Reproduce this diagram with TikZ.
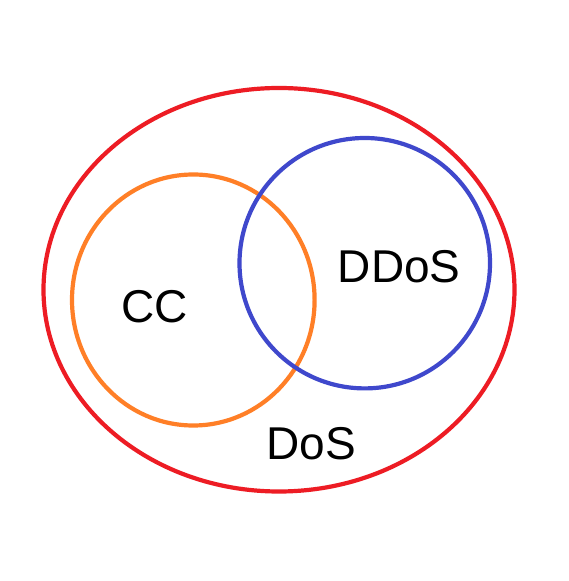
\documentclass[tikz,border=0pt]{standalone}
\usepackage{fontspec}
\setmainfont{Liberation Sans}
\definecolor{vred}{RGB}{237,28,36}
\definecolor{vorange}{RGB}{255,127,39}
\definecolor{vblue}{RGB}{63,72,204}
\begin{document}
\begin{tikzpicture}[x=1pt,y=1pt,
  setring/.style={line width=4.2pt},
  setlabel/.style={inner sep=0pt,anchor=base,font=\fontsize{46}{50}\selectfont}]
\useasboundingbox (0,0) rectangle (569,581);
\fill[white] (0,0) rectangle (569,581);
\draw[setring,vred] (279,291.25) ellipse [x radius=235.5, y radius=201.75];
\draw[setring,vorange] (193.3,281) ellipse [x radius=121.3, y radius=125.5];
\draw[setring,vblue] (364.75,317.8) ellipse [x radius=125.25, y radius=125.2];
\node[setlabel] (cc) at (155,258.3) {CC};
\node[setlabel] (ddos) at (399.2,298.3) {DDoS};
\node[setlabel] (dos) at (311.3,121) {DoS};
\end{tikzpicture}
\end{document}
